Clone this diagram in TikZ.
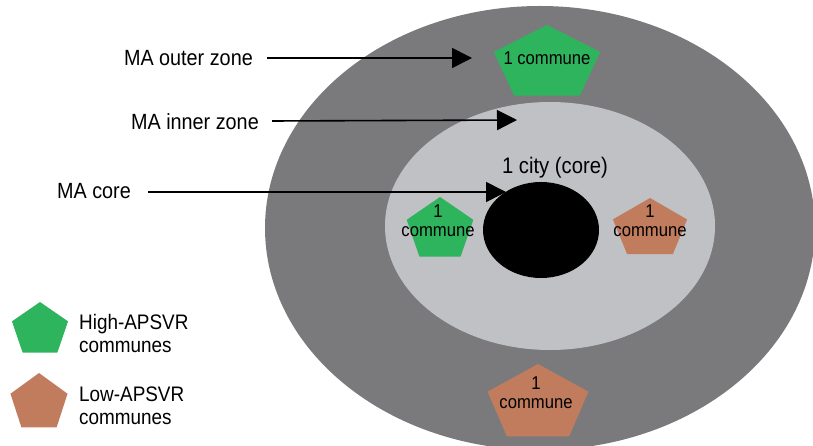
\documentclass[tikz,border=0pt]{standalone}
\usepackage{fontspec}
\setmainfont{Liberation Sans}[FakeStretch=0.9]
\usetikzlibrary{arrows.meta}
\definecolor{outerzone}{RGB}{122,122,124}
\definecolor{innerzone}{RGB}{192,193,196}
\definecolor{highgreen}{RGB}{46,180,92}
\definecolor{lowbrown}{RGB}{193,124,94}
% pentagon: centre x, centre y, x-radius, y-radius, colour
\newcommand\pentashape[5]{%
  \fill[#5] (#1,#2) +(-90:#3 and #4) -- +(-18:#3 and #4) -- +(54:#3 and #4)
    -- +(126:#3 and #4) -- +(198:#3 and #4) -- cycle;}
\tikzset{
  zonelabel/.style={font=\fontsize{22}{24}\selectfont, inner sep=0pt},
  pointer/.style={line width=1.6pt, -{Triangle[length=20pt,width=20pt]}},
  cnt/.style={font=\fontsize{18.5}{19}\selectfont, inner sep=0pt, align=center},
  legendtext/.style={font=\fontsize{21}{23}\selectfont, inner sep=0pt, align=left, anchor=west}
}
\begin{document}
\begin{tikzpicture}[x=1pt,y=-1pt]
\useasboundingbox (0,0) rectangle (813,446);
\clip (0,0) rectangle (813,446);
% zones
\fill[outerzone] (540,228) ellipse [x radius=275, y radius=222];
\fill[innerzone] (550,226) ellipse [x radius=165, y radius=124];
\fill[black] (541,230) ellipse [x radius=58, y radius=48];
% communes
\pentashape{547}{64}{56}{39}{highgreen}
\pentashape{440}{230}{35}{33}{highgreen}
\pentashape{650}{229}{39}{31}{lowbrown}
\pentashape{538}{404}{53}{40}{lowbrown}
\node[cnt] (cOuter) at (547,58) {1 commune};
\node[cnt] (cInnerG) at (438,221) {1\\commune};
\node[cnt] (cInnerB) at (650,221) {1\\commune};
\node[cnt] (cOuterB) at (536,393) {1\\commune};
\node[font=\fontsize{22.5}{24}\selectfont, inner sep=0pt] (city) at (555,168) {1 city (core)};
% zone labels with pointers
\node[zonelabel, anchor=east] (lOuter) at (253,58) {MA outer zone};
\node[zonelabel, anchor=east] (lInner) at (259,122) {MA inner zone};
\node[zonelabel, anchor=east] (lCore) at (131,191) {MA core};
\coordinate (tOuter) at (472,58);
\coordinate (tInner) at (517,120);
\coordinate (tCore) at (506,192);
\draw[pointer] (lOuter.east) ++(14,0) -- (tOuter);
\draw[pointer] (lInner.east) ++(13,-1) -- (tInner);
\draw[pointer] (lCore.east) ++(17,1) -- (tCore);
% legend
\pentashape{40}{330}{29.5}{28}{highgreen}
\pentashape{39}{403}{30}{30}{lowbrown}
\node[legendtext] (lgHigh) at (79,333) {High-APSVR\\communes};
\node[legendtext] (lgLow) at (79,406) {Low-APSVR\\communes};
\end{tikzpicture}
\end{document}
